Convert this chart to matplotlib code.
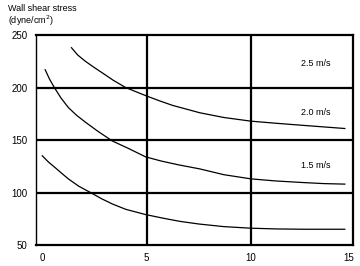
import numpy as np
import matplotlib
matplotlib.use("Agg")
import matplotlib.pyplot as plt

plt.rcParams['font.family'] = ['Liberation Sans', 'DejaVu Sans']

# curves (x in flow units, y in dyne/cm^2)
top_x = [1.4, 1.7, 2.07, 2.5, 2.88, 3.4, 4.0, 4.5, 5.0, 5.6, 6.25, 6.9, 7.55, 8.7, 10.0, 11.2, 12.5, 13.5, 14.5]
top_y = [238, 231, 225, 219, 214, 207, 200, 196, 192, 187.5, 183, 179.5, 176, 171.5, 168, 166, 164, 162.5, 161]

mid_x = [0.14, 0.35, 0.58, 0.9, 1.25, 1.65, 2.07, 2.69, 3.37, 4.13, 4.95, 5.7, 6.5, 7.55, 8.7, 10.0, 11.2, 12.5, 13.5, 14.5]
mid_y = [217, 208, 200, 190, 181, 173.5, 167, 158, 149, 142, 134, 130, 126.5, 122.5, 117, 113, 111, 109.5, 108.5, 108]

low_x = [0.0, 0.3, 0.63, 0.95, 1.25, 1.75, 2.31, 2.85, 3.37, 4.0, 4.95, 5.8, 6.6, 7.5, 8.7, 10.0, 11.2, 12.5, 13.5, 14.5]
low_y = [135, 129, 123.5, 118, 113, 106, 100, 94, 89, 84, 79, 75.5, 72.5, 70, 67.5, 66, 65.3, 65, 65, 65]

labels = ["2.5 m/s", "2.0 m/s", "1.5 m/s"]
label_y = [223, 176, 126]

xticks = [0, 5, 10, 15]
yticks = [50, 100, 150, 200, 250]

fig = plt.figure(figsize=(3.6, 2.66), dpi=100)
ax = fig.add_axes([0.1, 0.079, 0.881, 0.789])

for xs, ys in [(top_x, top_y), (mid_x, mid_y), (low_x, low_y)]:
    ax.plot(xs, ys, color='black', lw=0.9, solid_joinstyle='round')

for g in [100, 150, 200]:
    ax.axhline(g, color='black', lw=1.6)
for g in [5, 10]:
    ax.axvline(g, color='black', lw=1.6)

for t, yy in zip(labels, label_y):
    ax.text(13.1, yy, t, fontsize=6.5, ha='center', va='center')

ax.set_xlim(-0.3, 14.9)
ax.set_ylim(50, 249)
ax.set_xticks([0, 5, 10, 14.7])
ax.set_xticklabels([str(v) for v in xticks])
ax.set_yticks(yticks)
ax.set_yticklabels([str(v) for v in yticks])
ax.tick_params(length=0, labelsize=7, pad=6)
for s in ['top', 'bottom', 'right']:
    ax.spines[s].set_linewidth(1.6)
ax.spines['left'].set_linewidth(1.0)

fig.text(0.022, 0.985, "Wall shear stress\n(dyne/cm$^2$)", fontsize=6.5,
         ha='left', va='top', linespacing=1.1)

fig.savefig("out.png", dpi=100)
